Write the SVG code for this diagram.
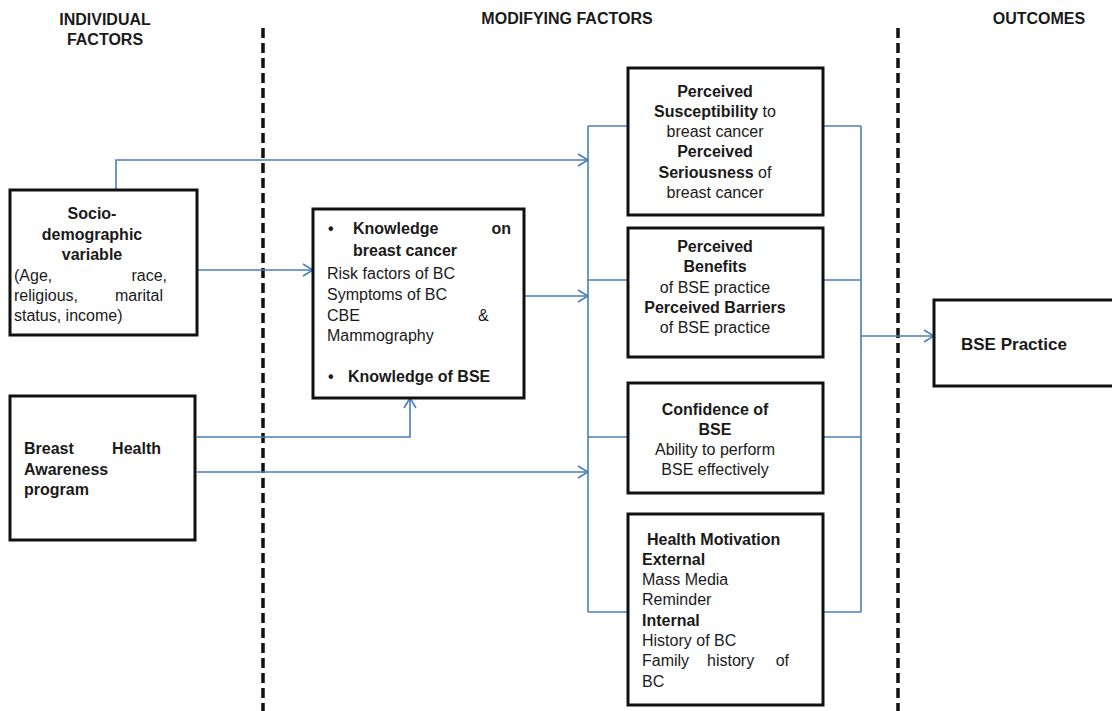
<svg xmlns="http://www.w3.org/2000/svg" width="1112" height="711" viewBox="0 0 1112 711">
<defs>
<marker id="arr" markerWidth="12" markerHeight="14" refX="11" refY="7" orient="auto" markerUnits="userSpaceOnUse">
<path d="M1,1 L11,7 L1,13" fill="none" stroke="#4a7ebb" stroke-width="1.6"/>
</marker>
</defs>
<style>
text{font-family:"Liberation Sans",Arial,sans-serif;font-size:16px;fill:#1a1a1a}
.b{font-weight:bold}
.h{font-weight:bold;font-size:16px}
.c{text-anchor:middle}
.e{text-anchor:end}
.box{fill:#fff;stroke:#111;stroke-width:3}
.sep{stroke:#111;stroke-width:3.5;stroke-dasharray:10 5;fill:none}
.con{stroke:#4a7ebb;stroke-width:1.6;fill:none}
</style>
<rect width="1112" height="711" fill="#fff"/>
<g id="headers">
<text class="h c" x="105" y="25">INDIVIDUAL</text>
<text class="h c" x="105" y="45">FACTORS</text>
<text class="h c" x="567" y="24">MODIFYING FACTORS</text>
<text class="h c" x="1039" y="24">OUTCOMES</text>
</g>
<g id="separators">
<line class="sep" x1="263" y1="28" x2="263" y2="711"/>
<line class="sep" x1="898" y1="28" x2="898" y2="711"/>
</g>
<g id="connectors">
<polyline class="con" points="116,190 116,160 588,160" marker-end="url(#arr)"/>
<line class="con" x1="197" y1="270" x2="313" y2="270" marker-end="url(#arr)"/>
<line class="con" x1="524" y1="296" x2="588" y2="296" marker-end="url(#arr)"/>
<polyline class="con" points="197,437 410,437 410,398" marker-end="url(#arr)"/>
<line class="con" x1="197" y1="472" x2="588" y2="472" marker-end="url(#arr)"/>
<line class="con" x1="588" y1="126" x2="588" y2="612"/>
<line class="con" x1="588" y1="126" x2="628" y2="126"/>
<line class="con" x1="588" y1="280" x2="628" y2="280"/>
<line class="con" x1="588" y1="437" x2="628" y2="437"/>
<line class="con" x1="588" y1="612" x2="628" y2="612"/>
<line class="con" x1="861" y1="126" x2="861" y2="612"/>
<line class="con" x1="823" y1="126" x2="861" y2="126"/>
<line class="con" x1="823" y1="280" x2="861" y2="280"/>
<line class="con" x1="823" y1="437" x2="861" y2="437"/>
<line class="con" x1="823" y1="612" x2="861" y2="612"/>
<line class="con" x1="861" y1="336" x2="934" y2="336" marker-end="url(#arr)"/>
</g>
<g id="socio">
<rect class="box" x="10" y="190" width="187" height="145"/>
<text class="b c" x="92" y="219">Socio-</text>
<text class="b c" x="92" y="240">demographic</text>
<text class="b c" x="92" y="260">variable</text>
<text x="14" y="281">(Age,</text><text class="e" x="167" y="281">race,</text>
<text x="14" y="301">religious,</text><text class="e" x="163" y="301">marital</text>
<text x="14" y="321">status, income)</text>
</g>
<g id="breast-health">
<rect class="box" x="10" y="396" width="185" height="144"/>
<text class="b" x="24" y="454">Breast</text><text class="b e" x="161" y="454">Health</text>
<text class="b" x="24" y="475">Awareness</text>
<text class="b" x="24" y="495">program</text>
</g>
<g id="knowledge">
<rect class="box" x="313" y="209" width="211" height="189"/>
<text class="b" x="328" y="234">•</text>
<text class="b" x="353" y="234">Knowledge</text><text class="b e" x="511" y="234">on</text>
<text class="b" x="353" y="256">breast cancer</text>
<text x="327" y="279">Risk factors of BC</text>
<text x="327" y="300">Symptoms of BC</text>
<text x="327" y="321">CBE</text><text x="478" y="321">&amp;</text>
<text x="327" y="341">Mammography</text>
<text class="b" x="328" y="382">•</text>
<text class="b" x="348" y="382">Knowledge of BSE</text>
</g>
<g id="susceptibility">
<rect class="box" x="628" y="68" width="195" height="147"/>
<text class="b c" x="715" y="97">Perceived</text>
<text class="c" x="715" y="117"><tspan class="b">Susceptibility</tspan> to</text>
<text class="c" x="715" y="137">breast cancer</text>
<text class="b c" x="715" y="157">Perceived</text>
<text class="c" x="715" y="178"><tspan class="b">Seriousness</tspan> of</text>
<text class="c" x="715" y="198">breast cancer</text>
</g>
<g id="benefits">
<rect class="box" x="628" y="228" width="195" height="129"/>
<text class="b c" x="715" y="252">Perceived</text>
<text class="b c" x="715" y="272">Benefits</text>
<text class="c" x="715" y="293">of BSE practice</text>
<text class="b c" x="715" y="313">Perceived Barriers</text>
<text class="c" x="715" y="333">of BSE practice</text>
</g>
<g id="confidence">
<rect class="box" x="628" y="383" width="195" height="110"/>
<text class="b c" x="715" y="415">Confidence of</text>
<text class="b c" x="715" y="435">BSE</text>
<text class="c" x="715" y="455">Ability to perform</text>
<text class="c" x="715" y="475">BSE effectively</text>
</g>
<g id="motivation">
<rect class="box" x="628" y="514" width="195" height="191"/>
<text class="b" x="647" y="545">Health Motivation</text>
<text class="b" x="642" y="565">External</text>
<text x="642" y="585">Mass Media</text>
<text x="642" y="605">Reminder</text>
<text class="b" x="642" y="626">Internal</text>
<text x="642" y="646">History of BC</text>
<text x="642" y="666">Family</text><text x="707" y="666">history</text><text class="e" x="789" y="666">of</text>
<text x="642" y="687">BC</text>
</g>
<g id="bse-practice">
<rect class="box" x="934" y="300" width="180" height="86"/>
<text class="b" x="961" y="350" style="font-size:17px">BSE Practice</text>
</g>
</svg>
